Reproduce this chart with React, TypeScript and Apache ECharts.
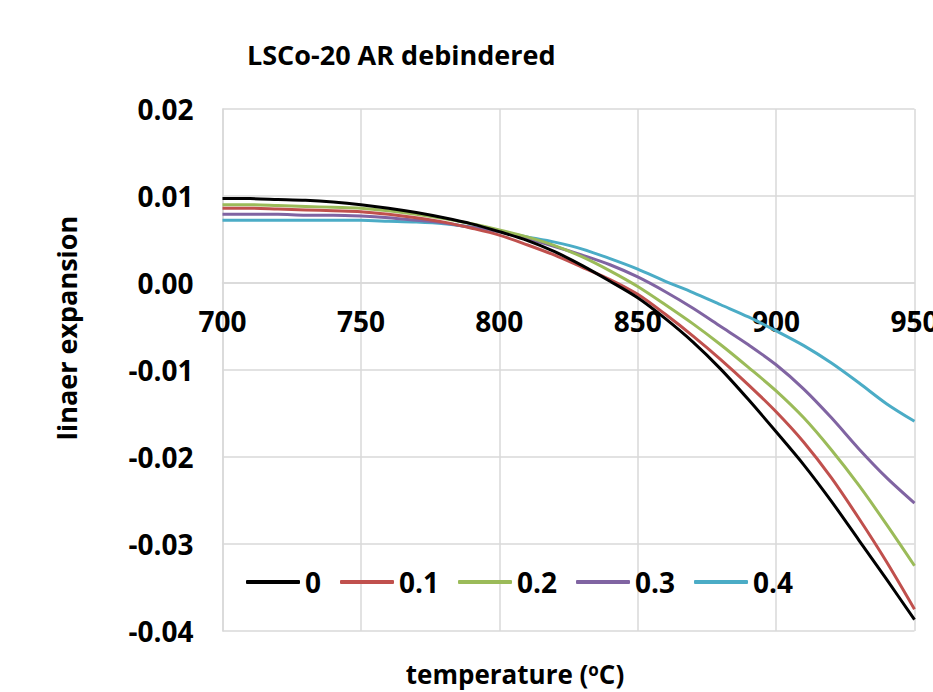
import React, { useEffect, useRef } from "react";
import * as echarts from "echarts";

const temperatures = [700, 710, 720, 730, 740, 750, 760, 770, 780, 790, 800, 810, 820, 830, 840, 850, 860, 870, 880, 890, 900, 910, 920, 930, 940, 950];
const seriesNames = ["0", "0.1", "0.2", "0.3", "0.4"];
const s0 = [0.0097, 0.0097, 0.0096, 0.0095, 0.0093, 0.0090, 0.0086, 0.0081, 0.0075, 0.0068, 0.0059, 0.0049, 0.0036, 0.0020, 0.0002, -0.0017, -0.0041, -0.0068, -0.0099, -0.0134, -0.0171, -0.0209, -0.0251, -0.0296, -0.0341, -0.0387];
const s1 = [0.0086, 0.0086, 0.0085, 0.0084, 0.0083, 0.0082, 0.0079, 0.0075, 0.0070, 0.0063, 0.0055, 0.0044, 0.0032, 0.0018, 0.0004, -0.0013, -0.0036, -0.0061, -0.0088, -0.0117, -0.0148, -0.0183, -0.0224, -0.0271, -0.0321, -0.0375];
const s2 = [0.0090, 0.0090, 0.0089, 0.0088, 0.0087, 0.0086, 0.0083, 0.0079, 0.0074, 0.0068, 0.0061, 0.0053, 0.0043, 0.0030, 0.0014, -0.0004, -0.0025, -0.0047, -0.0071, -0.0097, -0.0124, -0.0155, -0.0192, -0.0233, -0.0278, -0.0325];
const s3 = [0.0079, 0.0079, 0.0079, 0.0078, 0.0078, 0.0077, 0.0075, 0.0072, 0.0069, 0.0064, 0.0059, 0.0051, 0.0042, 0.0032, 0.0021, 0.0007, -0.0010, -0.0029, -0.0050, -0.0071, -0.0094, -0.0122, -0.0155, -0.0191, -0.0224, -0.0253];
const s4 = [0.0072, 0.0072, 0.0072, 0.0072, 0.0072, 0.0072, 0.0071, 0.0070, 0.0068, 0.0064, 0.0059, 0.0053, 0.0047, 0.0039, 0.0028, 0.0016, 0.0002, -0.0011, -0.0025, -0.0039, -0.0055, -0.0072, -0.0092, -0.0115, -0.0139, -0.0159];
const allSeries = [s0, s1, s2, s3, s4];
const colors = ["#000000", "#C0504D", "#9BBB59", "#8064A2", "#4BACC6"];

const FONT = "'Open Sans', sans-serif";

export default function App() {
  const ref = useRef<HTMLDivElement>(null);
  useEffect(() => {
    if (!ref.current) return;
    const chart = echarts.init(ref.current, null, { renderer: "svg" });
    chart.setOption({
      animation: false,
      backgroundColor: "#ffffff",
      title: {
        text: "LSCo-20 AR debindered",
        left: 242,
        top: 36,
        textStyle: { fontFamily: FONT, fontWeight: "bold", fontSize: 27, color: "#000" },
      },
      grid: {
        left: 222.5,
        right: 18.5,
        top: 109,
        bottom: 61,
        containLabel: false,
        outerBoundsMode: "none",
      },
      legend: {
        data: seriesNames,
        left: 241,
        top: 563,
        icon: "roundRect",
        itemWidth: 54,
        itemHeight: 4,
        itemGap: 19,
        textStyle: { fontFamily: FONT, fontWeight: "bold", fontSize: 28, color: "#000" },
      },
      xAxis: {
        type: "value",
        min: 700,
        max: 950,
        interval: 50,
        offset: -348,
        axisLine: { onZero: false, lineStyle: { color: "#d9d9d9", width: 1.5 } },
        axisTick: { show: false },
        axisLabel: { fontFamily: FONT, fontWeight: "bold", fontSize: 28, color: "#000", margin: 24 },
        splitLine: { show: true, lineStyle: { color: "#d9d9d9", width: 1.5 } },
      },
      yAxis: {
        type: "value",
        min: -0.04,
        max: 0.02,
        interval: 0.01,
        axisLine: { show: true, onZero: false, lineStyle: { color: "#d9d9d9", width: 1.5 } },
        axisTick: { show: false },
        axisLabel: {
          fontFamily: FONT,
          fontWeight: "bold",
          fontSize: 28,
          color: "#000",
          margin: 29,
          formatter: (v: number) => (Math.abs(v) < 1e-9 ? "0.00" : v.toFixed(2)),
        },
        splitLine: { show: true, lineStyle: { color: "#d9d9d9", width: 1.5 } },
      },
      graphic: [
        {
          type: "text",
          x: 66,
          y: 328,
          rotation: Math.PI / 2,
          style: {
            text: "linaer expansion",
            fontFamily: FONT,
            fontWeight: "bold",
            fontSize: 27,
            fill: "#000",
            textAlign: "center",
            textVerticalAlign: "middle",
          },
        },
        {
          type: "text",
          x: 515,
          y: 674,
          style: {
            text: "temperature ({sup|o}C)",
            fontFamily: FONT,
            fontWeight: "bold",
            fontSize: 26,
            fill: "#000",
            textAlign: "center",
            textVerticalAlign: "middle",
            rich: {
              sup: { fontFamily: FONT, fontWeight: "bold", fontSize: 17, verticalAlign: "top", padding: [0, 0, 10, 0] },
            },
          },
        },
      ],
      series: allSeries.map((vals, i) => ({
        name: seriesNames[i],
        type: "line",
        data: temperatures.map((t, j) => [t, vals[j]]),
        showSymbol: false,
        symbol: "none",
        smooth: 0.3,
        color: colors[i],
        lineStyle: { color: colors[i], width: 3 },
        z: 10 - i,
      })),
    });
    return () => chart.dispose();
  }, []);
  return (
    <div
      ref={ref}
      style={{ position: "absolute", left: 0, top: 0, width: 933, height: 692 }}
    />
  );
}
